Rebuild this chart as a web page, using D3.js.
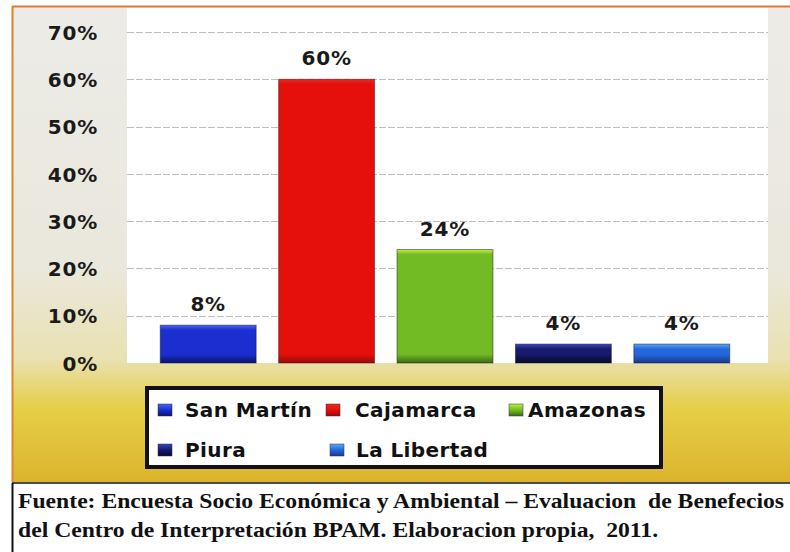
<!DOCTYPE html>
<html><head><meta charset="utf-8">
<script src="https://cdn.jsdelivr.net/npm/d3@7"></script>
<style>html,body{margin:0;padding:0;background:#fff;}svg{display:block;}</style>
</head><body>
<svg id="chart" width="790" height="552"></svg>
<script>
const categories = ["San Martín", "Cajamarca", "Amazonas", "Piura", "La Libertad"];
const values = [8, 60, 24, 4, 4];
const valueLabels = ["8%", "60%", "24%", "4%", "4%"];
const tickValues = [0, 10, 20, 30, 40, 50, 60, 70];
const tickLabels = ["0%", "10%", "20%", "30%", "40%", "50%", "60%", "70%"];
const legendRows = [["San Martín", "Cajamarca", "Amazonas"], ["Piura", "La Libertad"]];
const footerLines = ["Fuente: Encuesta Socio Económica y Ambiental – Evaluacion  de Benefecios",
                     "del Centro de Interpretación BPAM. Elaboracion propia,  2011."];

const colors = {
  "San Martín": ["#4a66f2", "#1b2fd0", "#0a1270"],
  "Cajamarca": ["#f2261c", "#e5100c", "#9a0808"],
  "Amazonas": ["#c4ee3a", "#72bb24", "#3a6a14"],
  "Piura": ["#3a46c0", "#161b6c", "#07082e"],
  "La Libertad": ["#5aa8f8", "#2468dc", "#163a90"]
};

const svg = d3.select("#chart");
const defs = svg.append("defs");

const bg = defs.append("linearGradient").attr("id", "bg").attr("x1", 0).attr("y1", 0).attr("x2", 0).attr("y2", 1);
[[0, "#ecebe7"], [0.55, "#eae8dc"], [0.74, "#e9e1b2"], [0.84, "#e6cf4a"], [1, "#dcb42c"]]
  .forEach(([o, c]) => bg.append("stop").attr("offset", o).attr("stop-color", c));

// frame
svg.append("rect").attr("x", 12).attr("y", 6).attr("width", 778).attr("height", 476).attr("fill", "url(#bg)");
svg.append("line").attr("x1", 12).attr("x2", 790).attr("y1", 6.5).attr("y2", 6.5).attr("stroke", "#e0783a").attr("stroke-width", 2);
svg.append("line").attr("x1", 12.5).attr("x2", 12.5).attr("y1", 6).attr("y2", 482).attr("stroke", "#d8862e").attr("stroke-width", 2);
svg.append("line").attr("x1", 12).attr("x2", 790).attr("y1", 483).attr("y2", 483).attr("stroke", "#4a4a55").attr("stroke-width", 2);
svg.append("line").attr("x1", 12.5).attr("x2", 12.5).attr("y1", 483).attr("y2", 552).attr("stroke", "#111").attr("stroke-width", 2);

const plot = {left: 127, right: 768, top: 8, bottom: 363};
svg.append("rect").attr("x", plot.left).attr("y", plot.top).attr("width", plot.right - plot.left)
  .attr("height", plot.bottom - plot.top).attr("fill", "#ffffff");

const y = d3.scaleLinear().domain([0, 70]).range([363, 32]);
const x = d3.scaleBand().domain(categories).range([149, 741]).paddingInner(0.19).paddingOuter(0.095);

// bar gradients in pixel space
values.forEach((v, i) => {
  const c = colors[categories[i]];
  const y1 = y(v), y2 = y(0), h = y2 - y1;
  const g = defs.append("linearGradient").attr("id", "g" + i).attr("gradientUnits", "userSpaceOnUse")
    .attr("x1", 0).attr("x2", 0).attr("y1", y1).attr("y2", y2);
  g.append("stop").attr("offset", 0).attr("stop-color", c[0]);
  g.append("stop").attr("offset", Math.min(0.3, 5 / h)).attr("stop-color", c[1]);
  g.append("stop").attr("offset", Math.max(0.5, 1 - 9 / h)).attr("stop-color", c[1]);
  g.append("stop").attr("offset", 1).attr("stop-color", c[2]);
  const lg = defs.append("linearGradient").attr("id", "lg" + i).attr("x1", 0).attr("y1", 0).attr("x2", 0).attr("y2", 1);
  lg.append("stop").attr("offset", 0).attr("stop-color", c[0]);
  lg.append("stop").attr("offset", 0.5).attr("stop-color", c[1]);
  lg.append("stop").attr("offset", 1).attr("stop-color", c[2]);
});

// gridlines
svg.append("g").selectAll("line").data(tickValues.filter(d => d > 0)).join("line")
  .attr("x1", plot.left).attr("x2", plot.right)
  .attr("y1", d => Math.round(y(d)) + 0.5).attr("y2", d => Math.round(y(d)) + 0.5)
  .attr("stroke", "#bdbdbd").attr("stroke-width", 1).attr("stroke-dasharray", "7,2");

// y axis labels
const yAxis = d3.axisLeft(y).tickValues(tickValues).tickFormat((d, i) => tickLabels[i]).tickSize(0).tickPadding(0);
const ga = svg.append("g").attr("transform", "translate(98,0)").call(yAxis);
ga.select(".domain").remove();
ga.selectAll("text").attr("font-family", "DejaVu Sans").attr("font-weight", "bold").attr("font-size", 20)
  .attr("letter-spacing", 0.8).attr("fill", "#1a1a1a").attr("dy", "0.36em");

// bars
svg.append("g").selectAll("rect").data(values).join("rect")
  .attr("x", (d, i) => x(categories[i]))
  .attr("y", d => y(d))
  .attr("width", x.bandwidth())
  .attr("height", d => y(0) - y(d))
  .attr("fill", (d, i) => "url(#g" + i + ")")
  .attr("stroke", "#1a1a1a").attr("stroke-opacity", 0.5).attr("stroke-width", 1);

// value labels
svg.append("g").selectAll("text").data(values).join("text")
  .attr("x", (d, i) => x(categories[i]) + x.bandwidth() / 2)
  .attr("y", d => y(d) - 14)
  .attr("text-anchor", "middle")
  .attr("font-family", "DejaVu Sans").attr("font-weight", "bold").attr("font-size", 20)
  .attr("letter-spacing", 0.8).attr("fill", "#1a1a1a")
  .text((d, i) => valueLabels[i]);

// legend
svg.append("rect").attr("x", 147).attr("y", 388).attr("width", 514).attr("height", 79)
  .attr("fill", "#fff").attr("stroke", "#111").attr("stroke-width", 4);
const swX = [[158, 326, 509], [158, 330]];
const txX = [[185, 355, 528], [185, 356]];
const rowY = [410, 450];
legendRows.forEach((row, r) => {
  row.forEach((name, c) => {
    const gi = categories.indexOf(name);
    svg.append("rect").attr("x", swX[r][c]).attr("y", rowY[r] - 6).attr("width", 14).attr("height", 12)
      .attr("fill", "url(#lg" + gi + ")").attr("stroke", "#333").attr("stroke-width", 0.5);
    svg.append("text").attr("x", txX[r][c]).attr("y", rowY[r]).attr("dy", "0.36em")
      .attr("font-family", "DejaVu Sans").attr("font-weight", "bold").attr("font-size", 20)
      .attr("letter-spacing", 0.4).attr("fill", "#111").text(name);
  });
});

// footer
const ft = svg.append("g");
const t1 = ft.append("text").attr("x", 18).attr("y", 508).text(footerLines[0]);
const t2 = ft.append("text").attr("x", 18).attr("y", 537).text(footerLines[1]);
ft.selectAll("text").attr("font-family", "Liberation Serif").attr("font-weight", "bold")
  .attr("font-size", 22).attr("fill", "#111").style("white-space", "pre");
const l1 = t1.node().getComputedTextLength();
const l2 = t2.node().getComputedTextLength();
const k = 766 / l1;
t1.attr("textLength", 766).attr("lengthAdjust", "spacingAndGlyphs");
t2.attr("textLength", l2 * k).attr("lengthAdjust", "spacingAndGlyphs");
</script>
</body></html>
